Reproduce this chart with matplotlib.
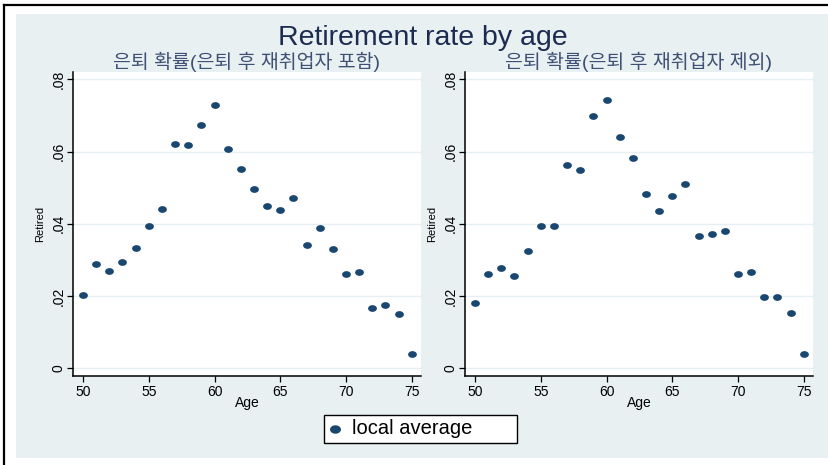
import matplotlib
matplotlib.use("Agg")
import matplotlib.pyplot as plt
import numpy as np
from matplotlib.lines import Line2D
from matplotlib.patches import Rectangle
from matplotlib.path import Path

plt.rcParams["font.family"] = ["Liberation Sans", "Noto Sans CJK KR", "DejaVu Sans"]

ages = list(range(50, 76))

# local average retirement rate, re-employed retirees counted as retired
rate_incl = [0.0204, 0.0289, 0.0269, 0.0293, 0.0334, 0.0395, 0.0442, 0.0620, 0.0617,
             0.0672, 0.0728, 0.0606, 0.0552, 0.0497, 0.0449, 0.0439, 0.0472, 0.0341,
             0.0388, 0.0330, 0.0262, 0.0267, 0.0167, 0.0175, 0.0151, 0.0039]
# same, re-employed retirees excluded
rate_excl = [0.0180, 0.0260, 0.0277, 0.0255, 0.0326, 0.0393, 0.0393, 0.0564, 0.0548,
             0.0697, 0.0743, 0.0641, 0.0583, 0.0482, 0.0435, 0.0477, 0.0510, 0.0365,
             0.0372, 0.0379, 0.0261, 0.0267, 0.0198, 0.0198, 0.0152, 0.0040]

subtitles = ["은퇴 확률(은퇴 후 재취업자 포함)", "은퇴 확률(은퇴 후 재취업자 제외)"]
x_ticks = [50, 55, 60, 65, 70, 75]
y_ticks = [0, 0.02, 0.04, 0.06, 0.08]
y_tick_labels = ["0", ".02", ".04", ".06", ".08"]

BG = "#e8f0f2"
NAVY = "#1a476f"
W, H = 829, 465

# slightly wide dot, like the stata export
circ = Path.unit_circle()
dot = Path(circ.vertices * np.array([1.3, 1.0]), circ.codes)

fig = plt.figure(figsize=(W / 100, H / 100), dpi=100)
fig.patch.set_facecolor("white")
fig.patches.append(Rectangle((16 / W, 1 - 458 / H), (W - 16) / W, 444 / H,
                             transform=fig.transFigure, facecolor=BG, edgecolor="none", zorder=-5))
fig.lines.append(Line2D([4.5 / W, 4.5 / W], [0, 1 - 5 / H], transform=fig.transFigure,
                        color="black", lw=1.6))
fig.lines.append(Line2D([4 / W, 1], [1 - 5 / H, 1 - 5 / H], transform=fig.transFigure,
                        color="black", lw=1.6))

panels = [(73, rate_incl), (465, rate_excl)]
axes = []
for i, (left_px, rates) in enumerate(panels):
    ax = fig.add_axes([left_px / W, 1 - 376 / H, 348 / W, 304 / H])
    ax.set_facecolor("white")
    ax.scatter(ages, rates, marker=dot, s=40, color=NAVY, linewidths=0, zorder=3,
               label="local average")
    ax.set_xlim(49.24, 75.7)
    ax.set_ylim(-0.0021, 0.082)
    ax.set_xticks(x_ticks)
    ax.set_yticks(y_ticks)
    ax.set_yticklabels(y_tick_labels, rotation=90, va="center")
    ax.tick_params(axis="both", direction="out", length=4.5, width=0.9, color="black",
                   labelsize=10, pad=2)
    ax.tick_params(axis="y", pad=1.0)
    ax.grid(axis="y", color="#e6eff1", lw=1.0)
    ax.set_axisbelow(True)
    for side in ("top", "right"):
        ax.spines[side].set_visible(False)
    for side in ("left", "bottom"):
        ax.spines[side].set_color("black")
        ax.spines[side].set_linewidth(1.1)
    ax.set_xlabel("Age", fontsize=10)
    ax.xaxis.set_label_coords(0.5, -0.065)
    ax.set_ylabel("Retired", fontsize=8)
    ax.yaxis.set_label_coords(-0.08, 0.5)
    ax.set_title(subtitles[i], fontsize=14, color="#3e5074", pad=2)
    axes.append(ax)

fig.text(422.5 / W, 1 - 45 / H, "Retirement rate by age", ha="center", va="baseline",
         fontsize=20.5, color="#1c2b50")

handles, labels = axes[0].get_legend_handles_labels()
leg = fig.legend(handles, labels, loc="center", mode="expand",
                 bbox_to_anchor=(324 / W, 1 - 443 / H, 193 / W, 28 / H),
                 fontsize=14.5, frameon=True, fancybox=False, handlelength=0.7,
                 handletextpad=0.5, borderpad=0.2, borderaxespad=0, markerscale=1.25,
                 framealpha=1)
leg.get_frame().set_edgecolor("black")
leg.get_frame().set_facecolor("white")
leg.get_frame().set_linewidth(1.0)

fig.savefig("out.png", dpi=100)
